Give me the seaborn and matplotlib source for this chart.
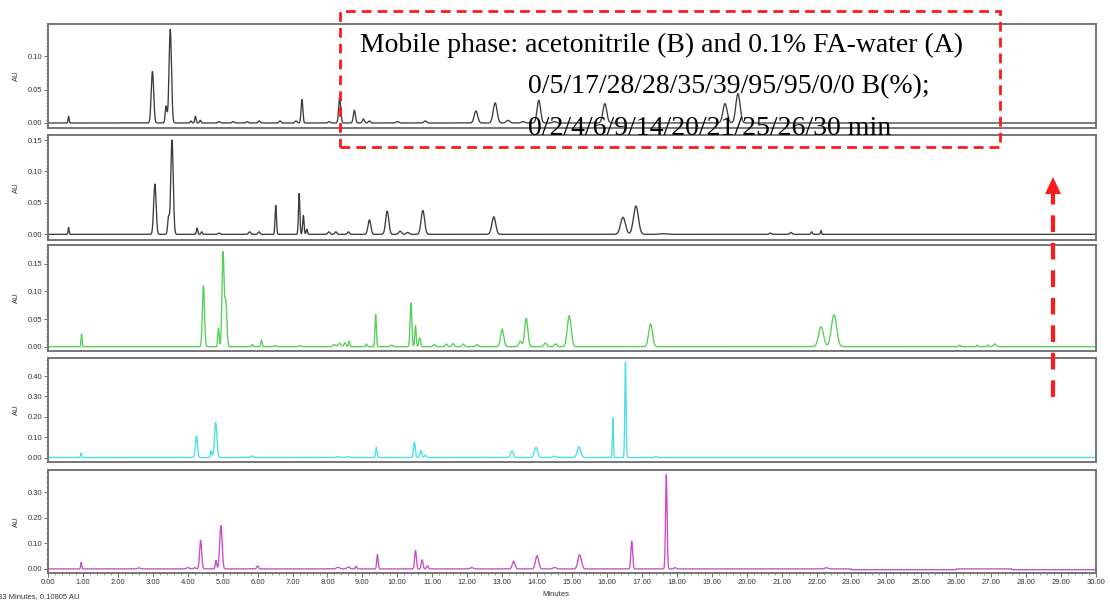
import numpy as np
import pandas as pd
import matplotlib
matplotlib.use("Agg")
import matplotlib.pyplot as plt
import seaborn as sns
from matplotlib.ticker import MultipleLocator, FormatStrFormatter
from matplotlib.patches import Rectangle, Polygon
from matplotlib.lines import Line2D

sns.set_theme(style="ticks")
plt.rcParams["font.family"] = ["Liberation Sans", "DejaVu Sans"]

# ---- peak tables (retention time / min, height / AU, width sigma / min) ----
rt1 = [0.59, 2.99, 3.38, 3.50, 4.09, 4.22, 4.36, 4.9, 5.3, 5.7, 6.05, 6.64, 7.1, 7.27,
       8.05, 8.35, 8.77, 9.03, 9.20, 10.0, 10.8, 12.25, 12.80, 13.17, 13.6, 14.05, 14.5,
       15.94, 19.38, 19.75]
h1 = [0.010, 0.077, 0.025, 0.140, 0.003, 0.010, 0.004, 0.002, 0.002, 0.002, 0.003, 0.003,
      0.003, 0.035, 0.002, 0.038, 0.019, 0.006, 0.003, 0.002, 0.003, 0.018, 0.030, 0.004,
      0.002, 0.034, 0.002, 0.029, 0.029, 0.044]
w1 = [0.015, 0.035, 0.025, 0.035, 0.02, 0.02, 0.02, 0.03, 0.03, 0.03, 0.03, 0.03, 0.03,
      0.025, 0.03, 0.03, 0.03, 0.03, 0.03, 0.04, 0.04, 0.05, 0.055, 0.05, 0.05, 0.05, 0.05,
      0.055, 0.06, 0.06]

rt2 = [0.59, 3.06, 3.45, 3.55, 4.27, 4.40, 4.9, 5.77, 6.04, 6.52, 7.19, 7.31, 7.41, 8.04,
       8.24, 8.60, 9.20, 9.71, 10.08, 10.3, 10.73, 12.76, 16.46, 16.83, 17.6, 20.68, 21.27,
       21.86, 22.13]
h2 = [0.011, 0.080, 0.027, 0.150, 0.010, 0.004, 0.002, 0.004, 0.004, 0.046, 0.065, 0.030,
      0.008, 0.004, 0.004, 0.004, 0.023, 0.037, 0.005, 0.003, 0.038, 0.028, 0.027, 0.045,
      0.001, 0.002, 0.003, 0.004, 0.006]
w2 = [0.015, 0.035, 0.025, 0.035, 0.02, 0.02, 0.03, 0.03, 0.03, 0.02, 0.02, 0.02, 0.02,
      0.03, 0.03, 0.03, 0.04, 0.045, 0.04, 0.04, 0.05, 0.055, 0.07, 0.07, 0.1, 0.03, 0.03,
      0.02, 0.015]

rt3 = [0.96, 4.45, 4.88, 5.01, 5.09, 5.85, 6.11, 6.5, 7.2, 8.19, 8.35, 8.5, 8.62, 9.11,
       9.38, 9.84, 10.39, 10.52, 10.64, 11.06, 11.40, 11.60, 11.89, 12.28, 13.00, 13.52,
       13.69, 14.24, 14.53, 14.92, 17.25, 22.13, 22.50, 26.1, 26.6, 26.9, 27.1]
h3 = [0.023, 0.110, 0.034, 0.170, 0.080, 0.004, 0.012, 0.002, 0.002, 0.004, 0.006, 0.007,
      0.010, 0.005, 0.058, 0.003, 0.079, 0.038, 0.016, 0.004, 0.005, 0.006, 0.005, 0.004,
      0.032, 0.010, 0.051, 0.007, 0.005, 0.056, 0.041, 0.036, 0.058, 0.003, 0.003, 0.003,
      0.005]
w3 = [0.015, 0.03, 0.02, 0.03, 0.03, 0.02, 0.02, 0.03, 0.03, 0.04, 0.04, 0.03, 0.02, 0.02,
      0.02, 0.03, 0.025, 0.02, 0.025, 0.03, 0.03, 0.03, 0.03, 0.03, 0.045, 0.04, 0.045,
      0.04, 0.04, 0.055, 0.055, 0.07, 0.075, 0.02, 0.02, 0.02, 0.04]

rt4 = [0.95, 4.25, 4.67, 4.80, 5.84, 8.3, 8.6, 9.40, 10.49, 10.68, 10.80, 13.28, 13.97,
       14.5, 15.20, 16.17, 16.53, 17.4]
h4 = [0.023, 0.106, 0.033, 0.172, 0.008, 0.004, 0.004, 0.050, 0.074, 0.036, 0.012, 0.033,
      0.050, 0.007, 0.053, 0.193, 0.469, 0.005]
w4 = [0.015, 0.03, 0.02, 0.035, 0.03, 0.05, 0.05, 0.02, 0.025, 0.025, 0.025, 0.04, 0.045,
      0.04, 0.05, 0.014, 0.018, 0.03]

rt5 = [0.95, 2.6, 4.0, 4.2, 4.37, 4.81, 4.95, 6.0, 8.3, 8.6, 8.82, 9.43, 10.52, 10.71,
       10.86, 12.13, 13.33, 14.00, 14.5, 15.22, 16.71, 17.70, 17.95, 22.28]
h5 = [0.026, 0.004, 0.005, 0.005, 0.112, 0.034, 0.170, 0.012, 0.006, 0.008, 0.010, 0.056,
      0.073, 0.036, 0.012, 0.005, 0.030, 0.052, 0.006, 0.056, 0.108, 0.370, 0.005, 0.005]
w5 = [0.015, 0.04, 0.04, 0.03, 0.03, 0.02, 0.035, 0.025, 0.05, 0.04, 0.02, 0.02, 0.025,
      0.025, 0.025, 0.04, 0.04, 0.045, 0.04, 0.05, 0.025, 0.022, 0.03, 0.05]

# baseline level changes late in the magenta run (start min, offset AU)
drift_t5 = [23.0, 26.0, 27.6]
drift_v5 = [-0.003, 0.0, -0.003]

y_ticks = [[0.00, 0.05, 0.10],
           [0.00, 0.05, 0.10, 0.15],
           [0.00, 0.05, 0.10, 0.15],
           [0.00, 0.10, 0.20, 0.30, 0.40],
           [0.00, 0.10, 0.20, 0.30]]
y_limits = [(-0.0075, 0.148), (-0.009, 0.158), (-0.0078, 0.184), (-0.022, 0.489), (-0.016, 0.388)]
trace_colors = ["#3c3c3c", "#3c3c3c", "#55cf55", "#48e0e0", "#c94bc9"]

minutes = np.linspace(0, 30, 6001)


def chromatogram(rts, heights, widths, drift_t=None, drift_v=None):
    y = np.zeros_like(minutes)
    for r, h, w in zip(rts, heights, widths):
        y += h * np.exp(-0.5 * ((minutes - r) / w) ** 2)
    if drift_t is not None:
        level = np.zeros_like(minutes)
        for t0, v in zip(drift_t, drift_v):
            level[minutes >= t0] = v
        y = y + level
    return y


traces = [
    chromatogram(rt1, h1, w1),
    chromatogram(rt2, h2, w2),
    chromatogram(rt3, h3, w3),
    chromatogram(rt4, h4, w4),
    chromatogram(rt5, h5, w5, drift_t5, drift_v5),
]

W, H = 1110, 602
fig = plt.figure(figsize=(W / 100, H / 100), dpi=100)
fig.patch.set_facecolor("white")

# panel boxes in pixels: (top, bottom)
panel_px = [(24, 128), (135, 240), (245, 351), (358, 462), (470, 573)]
left_px, right_px = 48, 1096

for i, ((top, bot), y) in enumerate(zip(panel_px, traces)):
    ax = fig.add_axes([left_px / W, 1 - bot / H, (right_px - left_px) / W, (bot - top) / H])
    df = pd.DataFrame({"Minutes": minutes, "AU": y})
    sns.lineplot(data=df, x="Minutes", y="AU", ax=ax, color=trace_colors[i],
                 lw=0.95, estimator=None, errorbar=None)
    ax.set_xlim(0, 30)
    ax.set_ylim(*y_limits[i])
    ax.set_yticks(y_ticks[i])
    ax.yaxis.set_major_formatter(FormatStrFormatter("%.2f"))
    ax.yaxis.set_minor_locator(MultipleLocator(0.005 if i < 3 else 0.02))
    for s in ax.spines.values():
        s.set_color("#6b6b6b")
        s.set_linewidth(1.3)
    ax.tick_params(axis="y", which="major", length=3, width=0.6, color="#555555",
                   labelsize=5.5, labelcolor="#333333", pad=1)
    ax.tick_params(axis="y", which="minor", length=1.5, width=0.5, color="#777777")
    ax.set_ylabel("AU", fontsize=5.5, color="#333333")
    ax.yaxis.set_label_coords(-0.027, 0.5)
    ax.set_xlabel("")
    if i < 4:
        ax.tick_params(axis="x", which="both", bottom=False, labelbottom=False)
    else:
        ax.xaxis.set_major_locator(MultipleLocator(1))
        ax.xaxis.set_minor_locator(MultipleLocator(0.2))
        ax.xaxis.set_major_formatter(FormatStrFormatter("%.2f"))
        ax.tick_params(axis="x", which="major", length=3, width=0.6, color="#555555",
                       labelsize=5.5, labelcolor="#333333", pad=1)
        ax.tick_params(axis="x", which="minor", length=1.5, width=0.5, color="#777777")

fig.text(556 / W, 1 - 594 / H, "Minutes", fontsize=5.5, color="#333333", ha="center", va="center")
fig.text(-2 / W, 1 - 597 / H, "33 Minutes, 0.10805 AU", fontsize=5.5, color="#333333",
         ha="left", va="center")

# gradient programme box
fig.add_artist(Rectangle((340 / W, 1 - 147 / H), 660 / W, 136 / H, transform=fig.transFigure,
                         fill=False, ec="#ff1a1a", lw=2.0, ls=(0, (3.5, 2.2)), zorder=5))
serif = ["Liberation Serif", "DejaVu Serif"]
fig.text(360 / W, 1 - 52 / H, "Mobile phase: acetonitrile (B) and 0.1% FA-water (A)",
         family=serif, fontsize=20, color="black", ha="left", va="baseline", zorder=6)
fig.text(528 / W, 1 - 93 / H, "0/5/17/28/28/35/39/95/95/0/0 B(%);",
         family=serif, fontsize=20, color="black", ha="left", va="baseline", zorder=6)
fig.text(528 / W, 1 - 135 / H, "0/2/4/6/9/14/20/21/25/26/30 min",
         family=serif, fontsize=20, color="black", ha="left", va="baseline", zorder=6)

# upward dashed arrow
fig.add_artist(Line2D([1053 / W, 1053 / W], [1 - 397 / H, 1 - 193 / H], transform=fig.transFigure,
                      color="#ff1a1a", lw=3.0, ls=(0, (4, 2.6)), zorder=5))
fig.add_artist(Polygon([[1045 / W, 1 - 194 / H], [1061 / W, 1 - 194 / H], [1053 / W, 1 - 177 / H]],
                       closed=True, transform=fig.transFigure, fc="#ff1a1a", ec="none", zorder=5))

fig.savefig("out.png", dpi=100, facecolor="white")
